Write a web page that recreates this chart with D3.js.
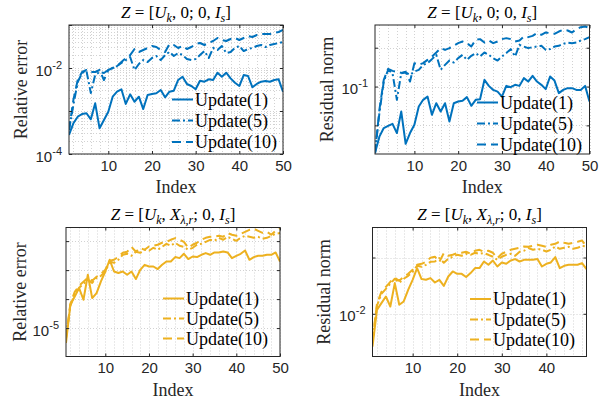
<!DOCTYPE html>
<html>
<head>
<meta charset="utf-8">
<script src="https://cdn.jsdelivr.net/npm/d3@7"></script>
<style>
	html, body { margin: 0; padding: 0; background: #fff; }
	svg { display: block; }
	.serif { font-family: 'Liberation Serif', 'DejaVu Serif', serif; }
	.sans { font-family: 'Liberation Sans', Arial, sans-serif; }
</style>
</head>
<body>
<div id="chart"></div>
<script>
// ---------------- data ----------------
const index = [1,2,3,4,5,6,7,8,9,10,11,12,13,14,15,16,17,18,19,20,21,22,23,24,25,26,27,28,29,30,31,32,33,34,35,36,37,38,39,40,41,42,43,44,45,46,47,48,49,50]
const seriesNames = ['Update(1)', 'Update(5)', 'Update(10)']

// Z = [U_k, 0; 0, I_s] : relative error
const relErrPlainU1 = [2.77e-4,5.18e-4,7.36e-4,8.51e-4,8.85e-4,6.41e-4,1.51e-3,3.96e-4,6.18e-4,9.64e-4,2.15e-3,2.81e-3,3.20e-3,1.46e-3,2.44e-3,1.64e-3,2.15e-3,1.11e-3,2.35e-3,2.48e-3,2.58e-3,3.08e-3,2.08e-3,2.81e-3,2.96e-3,5.26e-3,6.28e-3,4.25e-3,3.81e-3,3.20e-3,5.07e-3,4.80e-3,5.46e-3,5.26e-3,7.78e-3,6.28e-3,7.78e-3,5.75e-3,4.55e-3,3.81e-3,6.87e-3,6.52e-3,3.56e-3,4.25e-3,4.80e-3,4.99e-3,4.80e-3,5.26e-3,5.46e-3,2.81e-3]
const relErrPlainU5 = [3.61e-4,1.38e-3,4.72e-3,7.66e-3,8.51e-3,2.62e-3,6.87e-3,8.07e-3,7.66e-3,8.98e-3,1.00e-2,1.11e-2,1.31e-2,1.53e-2,1.80e-2,8.98e-3,1.24e-2,1.53e-2,1.38e-2,1.71e-2,1.90e-2,1.53e-2,2.00e-2,2.36e-2,1.90e-2,2.23e-2,2.00e-2,1.62e-2,1.53e-2,1.62e-2,2.00e-2,2.48e-2,1.71e-2,2.92e-2,2.62e-2,3.25e-2,2.23e-2,2.36e-2,2.92e-2,3.25e-2,2.48e-2,2.77e-2,2.92e-2,3.25e-2,3.43e-2,3.08e-2,3.43e-2,3.61e-2,3.81e-2,4.03e-2]
const relErrPlainU10 = [3.61e-4,1.80e-3,5.26e-3,8.07e-3,8.98e-3,8.07e-3,8.07e-3,8.98e-3,5.26e-3,8.98e-3,1.00e-2,1.11e-2,1.38e-2,1.71e-2,2.00e-2,2.77e-2,2.36e-2,2.62e-2,2.92e-2,3.25e-2,3.08e-2,2.62e-2,2.36e-2,3.61e-2,3.43e-2,2.92e-2,3.25e-2,2.77e-2,3.08e-2,3.61e-2,3.81e-2,3.43e-2,3.81e-2,4.25e-2,4.99e-2,4.48e-2,4.25e-2,4.72e-2,4.99e-2,4.48e-2,4.99e-2,5.55e-2,5.26e-2,5.85e-2,6.18e-2,6.18e-2,6.18e-2,6.52e-2,6.87e-2,7.66e-2]

// Z = [U_k, 0; 0, I_s] : residual norm
const resPlainU1 = [0.0305,0.0409,0.0477,0.0496,0.0514,0.0436,0.0640,0.0360,0.0436,0.0505,0.0700,0.0789,0.0836,0.0604,0.0743,0.0640,0.0743,0.0536,0.0743,0.0765,0.0775,0.0828,0.0709,0.0789,0.0798,0.1127,0.1012,0.0942,0.0914,0.0836,0.1012,0.0989,0.1031,0.1012,0.1162,0.1094,0.1210,0.1094,0.1031,0.0955,0.1197,0.1113,0.0889,0.0942,0.0972,0.0972,0.0942,0.0942,0.1012,0.0765]
const resPlainU5 = [0.0305,0.0622,0.1094,0.1347,0.1270,0.0789,0.1270,0.1285,0.1233,0.1307,0.1347,0.1473,0.1518,0.1631,0.1762,0.1347,0.1473,0.1591,0.1535,0.1660,0.1762,0.1611,0.1730,0.1817,0.1709,0.1836,0.1762,0.1660,0.1591,0.1709,0.1817,0.1950,0.1709,0.2105,0.2042,0.1986,0.2020,0.2042,0.2070,0.1924,0.1950,0.2042,0.2070,0.2144,0.2193,0.2169,0.2193,0.2275,0.2331,0.2415]
const resPlainU10 = [0.0305,0.0659,0.1127,0.1372,0.1323,0.1301,0.1277,0.1301,0.1094,0.1518,0.1473,0.1518,0.1611,0.1709,0.1836,0.1986,0.1924,0.1986,0.2070,0.2169,0.2234,0.2169,0.2042,0.2302,0.2331,0.2193,0.2275,0.2169,0.2234,0.2331,0.2373,0.2331,0.2234,0.2275,0.2443,0.2415,0.2472,0.2596,0.2518,0.2626,0.2596,0.2564,0.2670,0.2752,0.2718,0.2626,0.2786,0.2886,0.2918,0.2852]

// Z = [U_k, X_{lambda,r}; 0, I_s] : relative error
const relErrAugU1 = [7.0e-6,1.75e-5,2.13e-5,2.60e-5,1.97e-5,3.58e-5,2.05e-5,2.31e-5,3.05e-5,3.87e-5,5.12e-5,3.87e-5,3.73e-5,3.87e-5,3.58e-5,3.87e-5,3.23e-5,4.03e-5,4.54e-5,4.36e-5,4.36e-5,4.10e-5,4.54e-5,4.92e-5,4.92e-5,5.46e-5,5.33e-5,5.91e-5,5.21e-5,5.54e-5,5.46e-5,5.77e-5,6.01e-5,5.77e-5,6.10e-5,6.10e-5,6.24e-5,6.10e-5,5.33e-5,5.63e-5,5.91e-5,6.40e-5,5.12e-5,5.46e-5,5.63e-5,5.63e-5,5.77e-5,5.77e-5,6.10e-5,4.92e-5]
const relErrAugU5 = [7.9e-6,1.70e-5,2.27e-5,2.62e-5,2.88e-5,3.17e-5,2.95e-5,3.33e-5,3.49e-5,3.84e-5,4.88e-5,4.76e-5,5.12e-5,5.77e-5,5.91e-5,5.63e-5,6.20e-5,6.05e-5,6.50e-5,6.35e-5,6.82e-5,6.50e-5,6.98e-5,7.50e-5,7.16e-5,7.69e-5,7.16e-5,6.98e-5,6.50e-5,6.82e-5,7.33e-5,7.50e-5,7.87e-5,8.26e-5,8.06e-5,8.66e-5,8.26e-5,8.87e-5,8.46e-5,8.06e-5,8.66e-5,9.08e-5,8.87e-5,8.66e-5,8.87e-5,8.46e-5,8.66e-5,9.08e-5,9.53e-5,9.69e-5]
const relErrAugU10 = [7.9e-6,1.79e-5,2.38e-5,2.75e-5,3.03e-5,3.33e-5,3.10e-5,3.41e-5,3.66e-5,4.03e-5,5.00e-5,5.12e-5,5.50e-5,6.05e-5,6.20e-5,6.98e-5,6.20e-5,6.82e-5,6.50e-5,7.04e-5,7.16e-5,7.33e-5,7.69e-5,7.87e-5,8.26e-5,8.60e-5,8.26e-5,7.87e-5,6.82e-5,7.33e-5,7.69e-5,8.26e-5,8.66e-5,8.87e-5,8.93e-5,9.08e-5,8.87e-5,9.69e-5,9.31e-5,9.08e-5,9.53e-5,1.000e-4,1.049e-4,1.074e-4,1.024e-4,9.76e-5,1.000e-4,9.31e-5,1.024e-4,1.092e-4]

// Z = [U_k, X_{lambda,r}; 0, I_s] : residual norm (49 steps)
const resAugU1 = [6.68e-3,1.050e-2,1.141e-2,1.237e-2,1.094e-2,1.459e-2,1.117e-2,1.164e-2,1.344e-2,1.520e-2,1.755e-2,1.533e-2,1.520e-2,1.552e-2,1.470e-2,1.520e-2,1.411e-2,1.583e-2,1.684e-2,1.636e-2,1.636e-2,1.572e-2,1.651e-2,1.755e-2,1.755e-2,1.904e-2,1.828e-2,1.928e-2,1.790e-2,1.881e-2,1.851e-2,1.928e-2,1.961e-2,1.904e-2,1.944e-2,1.944e-2,1.944e-2,1.961e-2,1.790e-2,1.851e-2,1.881e-2,2.010e-2,1.755e-2,1.806e-2,1.828e-2,1.828e-2,1.828e-2,1.866e-2,1.734e-2]
const resAugU5 = [7.17e-3,1.104e-2,1.279e-2,1.360e-2,1.447e-2,1.539e-2,1.465e-2,1.539e-2,1.596e-2,1.677e-2,1.806e-2,1.784e-2,1.828e-2,1.897e-2,1.904e-2,1.986e-2,1.874e-2,1.969e-2,2.018e-2,2.068e-2,2.043e-2,2.094e-2,2.068e-2,2.120e-2,2.094e-2,2.112e-2,2.068e-2,2.018e-2,1.944e-2,2.018e-2,2.068e-2,2.094e-2,2.043e-2,2.146e-2,2.173e-2,2.246e-2,2.199e-2,2.227e-2,2.199e-2,2.154e-2,2.199e-2,2.291e-2,2.227e-2,2.254e-2,2.282e-2,2.227e-2,2.254e-2,2.310e-2,2.291e-2]
const resAugU10 = [7.17e-3,1.131e-2,1.311e-2,1.394e-2,1.483e-2,1.558e-2,1.501e-2,1.577e-2,1.636e-2,1.719e-2,1.828e-2,1.851e-2,1.897e-2,1.993e-2,2.018e-2,1.897e-2,2.112e-2,2.043e-2,2.068e-2,2.112e-2,2.120e-2,2.146e-2,2.094e-2,2.173e-2,2.199e-2,2.146e-2,2.173e-2,2.120e-2,1.986e-2,2.094e-2,2.146e-2,2.199e-2,2.227e-2,2.254e-2,2.291e-2,2.282e-2,2.310e-2,2.339e-2,2.310e-2,2.282e-2,2.339e-2,2.368e-2,2.436e-2,2.398e-2,2.368e-2,2.398e-2,2.427e-2,2.466e-2,2.291e-2]

// axis limits and ticks
const yLimRelErrPlain = [1e-4, 1e-1]
const yLimResPlain = [0.03, 0.3]
const yLimRelErrAug = [5.07e-6, 1.108e-4]
const yLimResAug = [5.91e-3, 2.894e-2]
const yGridResPlain = [0.05, 0.1, 0.2]
const yGridRelErrAug = [1e-5, 2e-5, 4e-5, 8e-5]
const yGridResAug = [0.01, 0.02]

// ---------------- drawing ----------------
const blue = '#0072BD'
const yellow = '#EDB120'
const axisColor = '#262626'
const gridColor = '#d2d2d2'
const dashes = ['none', '8,3,2,3', '9,5']

const svg = d3.select('#chart')
	.append('svg')
	.attr('width', 606)
	.attr('height', 403)

svg.append('rect')
	.attr('width', 606)
	.attr('height', 403)
	.attr('fill', 'white')

const titlePlain = [
	{t: 'Z', it: true}, {t: ' = [', it: false}, {t: 'U', it: true}, {t: 'k', it: true, sub: true},
	{t: ', 0; 0, ', it: false}, {t: 'I', it: true}, {t: 's', it: true, sub: true}, {t: ']', it: false}
]
const titleAug = [
	{t: 'Z', it: true}, {t: ' = [', it: false}, {t: 'U', it: true}, {t: 'k', it: true, sub: true},
	{t: ', ', it: false}, {t: 'X', it: true}, {t: 'λ,r', it: true, sub: true},
	{t: '; 0, ', it: false}, {t: 'I', it: true}, {t: 's', it: true, sub: true}, {t: ']', it: false}
]

function logGrid(lim) {
	const out = []
	for (let e = Math.floor(Math.log10(lim[0])); e <= Math.ceil(Math.log10(lim[1])); e++) {
		for (let m = 1; m < 10; m++) {
			const v = m * Math.pow(10, e)
			if (v >= lim[0] * 0.999 && v <= lim[1] * 1.001) out.push(v)
		}
	}
	return out
}

const panels = [
	{
		id: 'p1', left: 69, right: 283, top: 25, bottom: 154, xMax: 50, color: blue,
		yLim: yLimRelErrPlain, yGrid: logGrid(yLimRelErrPlain), yMajor: [1e-4, 1e-3, 1e-2, 1e-1],
		yLabels: [[1e-4, '-4'], [1e-2, '-2']], ylabel: 'Relative error', ylabelX: 27,
		title: titlePlain, titleY: 18,
		series: [relErrPlainU1, relErrPlainU5, relErrPlainU10],
		legend: {x: 172, rows: [99.5, 120.5, 142]}
	},
	{
		id: 'p2', left: 375, right: 589.5, top: 25, bottom: 154, xMax: 50, color: blue,
		yLim: yLimResPlain, yGrid: yGridResPlain, yMajor: yGridResPlain,
		yLabels: [[0.1, '-1']], ylabel: 'Residual norm', ylabelX: 333,
		title: titlePlain, titleY: 18,
		series: [resPlainU1, resPlainU5, resPlainU10],
		legend: {x: 477, rows: [102.5, 123.5, 144.5]}
	},
	{
		id: 'p3', left: 66, right: 280, top: 227.5, bottom: 356.5, xMax: 50, color: yellow,
		yLim: yLimRelErrAug, yGrid: yGridRelErrAug, yMajor: yGridRelErrAug,
		yLabels: [[1e-5, '-5']], ylabel: 'Relative error', ylabelX: 26,
		title: titleAug, titleY: 220,
		series: [relErrAugU1, relErrAugU5, relErrAugU10],
		legend: {x: 163, rows: [298.5, 318.5, 338.5]}
	},
	{
		id: 'p4', left: 372.5, right: 586.5, top: 227.5, bottom: 356.5, xMax: 49, color: yellow,
		yLim: yLimResAug, yGrid: yGridResAug, yMajor: yGridResAug,
		yLabels: [[0.01, '-2']], ylabel: 'Residual norm', ylabelX: 330,
		title: titleAug, titleY: 220,
		series: [resAugU1, resAugU5, resAugU10],
		legend: {x: 470, rows: [299, 319.5, 339.5]}
	}
]

function drawMath(sel, parts) {
	let shift = 0
	parts.forEach(function(p) {
		const target = p.sub ? 4 : 0
		sel.append('tspan')
			.attr('dy', target - shift)
			.attr('font-style', p.it ? 'italic' : 'normal')
			.attr('font-size', p.sub ? 12 : null)
			.text(p.t)
		shift = target
	})
}

function drawPanel(p) {
	const g = svg.append('g').attr('id', p.id)

	const xScale = d3.scaleLinear()
		.domain([1, p.xMax])
		.range([p.left, p.right])

	const yScale = d3.scaleLog()
		.domain(p.yLim)
		.range([p.bottom, p.top])

	g.append('clipPath')
		.attr('id', 'clip-' + p.id)
		.append('rect')
		.attr('x', p.left)
		.attr('y', p.top)
		.attr('width', p.right - p.left)
		.attr('height', p.bottom - p.top)

	// grid
	const xMinor = []
	for (let v = 2; v <= p.xMax; v += 2) xMinor.push(v)
	g.append('g')
		.selectAll('line')
		.data(xMinor)
		.enter()
		.append('line')
		.attr('x1', d => Math.round(xScale(d)) + 0.5)
		.attr('x2', d => Math.round(xScale(d)) + 0.5)
		.attr('y1', p.top)
		.attr('y2', p.bottom)
		.attr('stroke', gridColor)
		.attr('stroke-dasharray', '1,2')

	g.append('g')
		.selectAll('line')
		.data(p.yGrid)
		.enter()
		.append('line')
		.attr('x1', p.left)
		.attr('x2', p.right)
		.attr('y1', d => Math.round(yScale(d)) + 0.5)
		.attr('y2', d => Math.round(yScale(d)) + 0.5)
		.attr('stroke', gridColor)
		.attr('stroke-dasharray', '1,2')

	// data lines
	const line = d3.line()
		.x((d, i) => xScale(index[i]))
		.y(d => yScale(d))

	p.series.forEach(function(s, k) {
		g.append('path')
			.datum(s)
			.attr('clip-path', 'url(#clip-' + p.id + ')')
			.attr('d', line)
			.attr('fill', 'none')
			.attr('stroke', p.color)
			.attr('stroke-width', 2)
			.attr('stroke-linejoin', 'round')
			.attr('stroke-dasharray', dashes[k])
	})

	// ticks via d3 axes (inside, mirrored)
	const xMajor = [10, 20, 30, 40, 50].filter(v => v <= p.xMax)
	const yMajor = p.yMajor.filter(v => v >= p.yLim[0] && v <= p.yLim[1])
	const tickStyle = function(sel) {
		sel.select('.domain').remove()
		sel.selectAll('line').attr('stroke', axisColor)
	}
	g.append('g')
		.attr('transform', 'translate(0,' + p.bottom + ')')
		.call(d3.axisBottom(xScale).tickValues(xMajor).tickSizeInner(-3).tickSizeOuter(0).tickPadding(6))
		.call(tickStyle)
		.call(sel => sel.selectAll('text')
			.attr('class', 'sans')
			.attr('font-family', null)
			.attr('font-size', 15)
			.attr('fill', axisColor))
	g.append('g')
		.attr('transform', 'translate(0,' + p.top + ')')
		.call(d3.axisTop(xScale).tickValues(xMajor).tickSizeInner(-3).tickSizeOuter(0).tickFormat(''))
		.call(tickStyle)
	g.append('g')
		.attr('transform', 'translate(' + p.left + ',0)')
		.call(d3.axisLeft(yScale).tickValues(yMajor).tickSizeInner(-3).tickSizeOuter(0).tickFormat(''))
		.call(tickStyle)
	g.append('g')
		.attr('transform', 'translate(' + p.right + ',0)')
		.call(d3.axisRight(yScale).tickValues(yMajor).tickSizeInner(-3).tickSizeOuter(0).tickFormat(''))
		.call(tickStyle)

	// y tick labels 10^n
	p.yLabels.forEach(function(l) {
		const t = g.append('text')
			.attr('class', 'sans')
			.attr('x', p.left - 7)
			.attr('y', yScale(l[0]) + 7.5)
			.attr('text-anchor', 'end')
			.attr('font-size', 15)
			.attr('fill', axisColor)
		t.append('tspan').text('10')
		t.append('tspan')
			.attr('dy', -7)
			.attr('font-size', 11)
			.text(l[1])
	})

	// box
	g.append('rect')
		.attr('x', p.left)
		.attr('y', p.top)
		.attr('width', p.right - p.left)
		.attr('height', p.bottom - p.top)
		.attr('fill', 'none')
		.attr('stroke', axisColor)
		.attr('stroke-width', 1)

	// axis labels
	g.append('text')
		.attr('class', 'serif')
		.attr('x', (p.left + p.right) / 2)
		.attr('y', p.bottom + 39)
		.attr('text-anchor', 'middle')
		.attr('font-size', 18)
		.attr('fill', axisColor)
		.text('Index')

	g.append('text')
		.attr('class', 'serif')
		.attr('transform', 'translate(' + p.ylabelX + ',' + ((p.top + p.bottom) / 2) + ') rotate(-90)')
		.attr('text-anchor', 'middle')
		.attr('font-size', 18)
		.attr('fill', axisColor)
		.text(p.ylabel)

	// title
	const title = g.append('text')
		.attr('class', 'serif')
		.attr('x', (p.left + p.right) / 2)
		.attr('y', p.titleY)
		.attr('text-anchor', 'middle')
		.attr('font-size', 17)
		.attr('fill', 'black')
	drawMath(title, p.title)

	// legend (no box)
	seriesNames.forEach(function(name, k) {
		const ry = p.legend.rows[k]
		g.append('line')
			.attr('x1', p.legend.x)
			.attr('x2', p.legend.x + 21)
			.attr('y1', ry)
			.attr('y2', ry)
			.attr('stroke', p.color)
			.attr('stroke-width', 2)
			.attr('stroke-dasharray', dashes[k])
		g.append('text')
			.attr('class', 'serif')
			.attr('x', p.legend.x + 23)
			.attr('y', ry + 6)
			.attr('font-size', 18)
			.attr('fill', 'black')
			.text(name)
	})
}

panels.forEach(drawPanel)
</script>
</body>
</html>
